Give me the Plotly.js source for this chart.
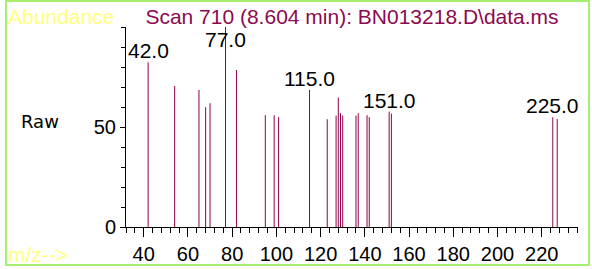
<!DOCTYPE html>
<html><head><meta charset="utf-8">
<script src="https://cdn.plot.ly/plotly-3.0.1.min.js"></script>
<style>html,body{margin:0;padding:0;background:#fff}#chart{width:592px;height:269px}</style>
</head><body><div id="chart"></div>
<script>
const mz = [42,54,65,68,70,77,82,95,99,101,115,123,127,128,129,130,136,137,141,142,151,152,225,227];
const abundance = [82.4,70.5,68.5,59.9,61.9,100,78.5,55.9,55.9,54.9,68.5,53.9,55.7,64.7,56.9,55.7,55.7,56.9,55.9,54.9,57.7,56.7,54.9,54.0];
const labeledMz = [42,77,115,151,225];
const labelText = ['42.0','77.0','115.0','151.0','225.0'];
const yTickVals = [0, 50];
const yTickText = ['0', '50'];
const titleText = 'Scan 710 (8.604 min): BN013218.D\\data.ms';
const yLabel = 'Raw';
const cornerTop = 'Abundance';
const cornerBottom = 'm/z-->';

const W = 592, H = 269;
const L = 126, R = 578, T = 27, B = 227;
const px2x = p => (p - L) / (R - L);
const px2y = p => (B - p) / (B - T);

const xs = [], ys = [];
mz.forEach((m, i) => { xs.push(m, m, null); ys.push(0, abundance[i], null); });

const font = 'Liberation Sans, Arial, Helvetica, sans-serif';
const annotations = labeledMz.map((m, i) => {
  const h = abundance[mz.indexOf(m)];
  return {x: m, y: Math.min(h, 88), xref: 'x', yref: 'y', text: labelText[i], showarrow: false,
    xanchor: 'center', yanchor: 'bottom', yshift: -2, font: {family: font, size: 21, color: '#000'}};
});
annotations.push({x: px2x(6), y: px2y(17), xref: 'paper', yref: 'paper', text: cornerTop, showarrow: false,
  xanchor: 'left', yanchor: 'middle', font: {family: font, size: 21, color: '#FFFF80'}});
annotations.push({x: px2x(6), y: px2y(254), xref: 'paper', yref: 'paper', text: cornerBottom, showarrow: false,
  xanchor: 'left', yanchor: 'middle', font: {family: font, size: 21, color: '#FFFF80'}});
annotations.push({x: px2x(19), y: px2y(121), xref: 'paper', yref: 'paper', text: yLabel, showarrow: false,
  xanchor: 'left', yanchor: 'middle', font: {family: 'DejaVu Sans, sans-serif', size: 18, color: '#000'}});

const trace = {x: xs, y: ys, type: 'scatter', mode: 'lines', line: {color: '#900048', width: 1}, hoverinfo: 'skip'};

const layout = {
  width: W, height: H, margin: {l: L, r: W - R, t: T, b: H - B, pad: 0},
  paper_bgcolor: '#fff', plot_bgcolor: '#fff', showlegend: false,
  title: {text: titleText, x: 352 / W, xanchor: 'center', xref: 'container', y: 1 - 17 / H, yanchor: 'middle', yref: 'container',
    font: {family: font, size: 21, color: '#8B0A50'}},
  xaxis: {range: [32, 236.4], tick0: 0, dtick: 20, ticks: 'outside', ticklen: 9, tickcolor: '#000', tickwidth: 1,
    showline: true, linecolor: '#000', linewidth: 1, showgrid: false, zeroline: false,
    tickfont: {family: font, size: 20, color: '#000'},
    minor: {tick0: 0, dtick: 4, ticks: 'outside', ticklen: 5, tickcolor: '#000', tickwidth: 1, showgrid: false}},
  yaxis: {range: [0, 100], tickmode: 'array', tickvals: yTickVals, ticktext: yTickText, ticks: 'outside', ticklen: 5, tickcolor: '#000', tickwidth: 1,
    showline: true, linecolor: '#000', linewidth: 1, showgrid: false, zeroline: false,
    tickfont: {family: font, size: 20, color: '#000'},
    minor: {tick0: 0, dtick: 10, ticks: 'outside', ticklen: 4, tickcolor: '#000', tickwidth: 1, showgrid: false}},
  annotations: annotations,
  shapes: [{type: 'rect', xref: 'paper', yref: 'paper', x0: px2x(6), x1: px2x(589), y0: px2y(265), y1: px2y(1),
    line: {color: '#A6EE6E', width: 2}, fillcolor: 'rgba(0,0,0,0)', layer: 'above'}]
};
Plotly.newPlot('chart', [trace], layout, {staticPlot: true, displayModeBar: false});
</script></body></html>
